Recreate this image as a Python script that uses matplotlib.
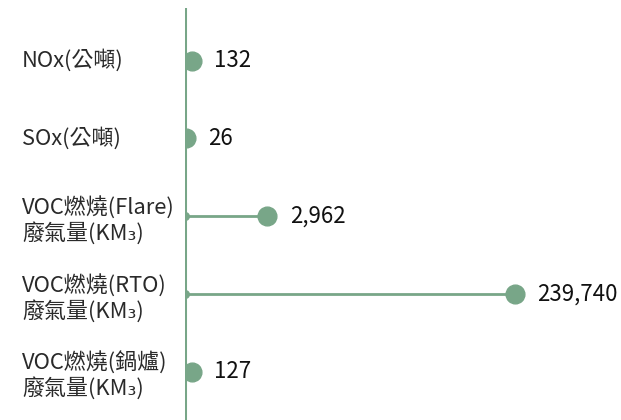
import numpy as np
import matplotlib.pyplot as plt

plt.rcParams['font.family'] = ['Noto Sans CJK TC', 'DejaVu Sans']

# 資料
labels = ["NOx(公噸)", "SOx(公噸)", "VOC燃燒(Flare)\n廢氣量(KM₃)",
          "VOC燃燒(RTO)\n廢氣量(KM₃)", "VOC燃燒(鍋爐)\n廢氣量(KM₃)"]
values = [132, 26, 2962, 239740, 127]

green = "#78a688"
k = 1000.0  # 壓縮尺度

fig = plt.figure(figsize=(6.21, 4.2), dpi=100)
ax = fig.add_axes([184.5 / 621, 0, (621 - 184.5) / 621, 412 / 420])
ax.set_xscale("function", functions=(lambda x: np.log1p(np.maximum(x, 0) / k),
                                     lambda y: np.expm1(y) * k))

ys = np.arange(len(values))
ax.hlines(ys, 0, values, color=green, lw=2, zorder=1)
ax.plot(np.zeros(len(values)), ys, "o", color=green, ms=5.5, zorder=2)
ax.plot(values, ys, "o", color=green, ms=13.5, zorder=3)

for y, v in zip(ys, values):
    ax.annotate(f"{v:,}", (v, y), xytext=(16, 0), textcoords="offset points",
                va="center", ha="left", fontsize=16, color="#111111")

ax.set_xlim(0, k * np.expm1(436.5 / 60.2))
ax.set_ylim(4 + 48.5 / 77.7, -52.7 / 77.7)
ax.axvline(0, color=green, lw=2.2, zorder=0)

for y, lab in zip(ys, labels):
    ax.annotate(lab, (0, y), xycoords=("axes fraction", "data"),
                xytext=(-162.5 * 0.72, -3.5 if "\n" in lab else 0),
                textcoords="offset points", ha="left", va="center",
                fontsize=15.8, color="#2a2a2a", linespacing=1.2)

ax.set_xticks([])
ax.set_yticks([])
for s in ax.spines.values():
    s.set_visible(False)
ax.patch.set_alpha(0)

fig.savefig("out.png", dpi=100)
